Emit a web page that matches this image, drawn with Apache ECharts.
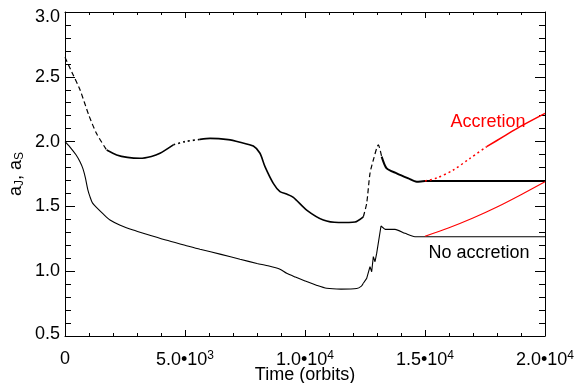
<!DOCTYPE html>
<html>
<head>
<meta charset="utf-8">
<script src="https://cdn.jsdelivr.net/npm/echarts@6/dist/echarts.min.js"></script>
<style>
html,body{margin:0;padding:0;background:#fff;}
#chart{width:578px;height:383px;}
</style>
</head>
<body>
<div id="chart"></div>
<script>
// Jupiter semi-major axis (no accretion)
const timeJ = [0,200,450,625,750,850,950,1040,1150,1320,1600,1875,2300,2840,3500,4200,5000,5625,6500,7292,8000,8500,8958,9236,9600,10000,10500,10903,11500,12153,12350,12430,12570,12708,12778,12847,12917,12986,13167,13333,13750,14167,14583,20000];
const aJ    = [2.0,1.96,1.9,1.845,1.79,1.72,1.63,1.575,1.525,1.49,1.44,1.395,1.355,1.318,1.28,1.24,1.2,1.169,1.13,1.092,1.06,1.04,1.015,0.984,0.955,0.925,0.89,0.868,0.862,0.866,0.885,0.907,0.945,1.035,0.996,1.112,1.073,1.137,1.349,1.323,1.323,1.292,1.266,1.266];
// Saturn semi-major axis (no accretion)
const timeS = [0,300,625,1000,1320,1736,2153,2600,3125,3600,3958,4514,5000,5625,6042,6800,7292,7847,8125,8333,8680,8958,9236,9514,10069,10764,11400,12083,12431,12570,12708,12847,13056,13194,13403,13819,14306,14653,15000,20000];
const aS    = [2.65,2.53,2.40,2.20,2.06,1.935,1.897,1.878,1.871,1.885,1.91,1.975,2.0,2.017,2.025,2.015,1.995,1.966,1.91,1.807,1.678,1.614,1.595,1.57,1.472,1.395,1.376,1.38,1.42,1.524,1.755,1.858,1.974,1.884,1.793,1.755,1.716,1.69,1.696,1.696];
// With accretion
const timeJacc = [15000,16000,17000,18000,19000,20000];
const aJacc    = [1.27,1.335,1.41,1.495,1.59,1.69];
const timeSacc = [15000,15500,16181,16875,17569,18264,18958,20000];
const aSacc    = [1.696,1.72,1.781,1.871,1.961,2.038,2.115,2.218];
// Tick values
const xTicks = [0,5000,10000,15000,20000];
const yTicks = [0.5,1.0,1.5,2.0,2.5,3.0];
const labelAcc = 'Accretion';
const labelNoAcc = 'No accretion';
const xTitle = 'Time (orbits)';

function pairs(t, v, t0, t1) {
  const out = [];
  for (let i = 0; i < t.length; i++) if (t[i] >= t0 && t[i] <= t1) out.push([t[i], v[i]]);
  return out;
}
function xfmt(v) {
  if (v === 0) return '0';
  const e = Math.floor(Math.log10(v) + 1e-9);
  const m = v / Math.pow(10, e);
  return m.toFixed(1) + '•10{sup|' + e + '}';
}
function yfmt(v) {
  const s = v.toFixed(1);
  if (v === yTicks[0]) return '{lo|' + s + '}';
  if (v === yTicks[yTicks.length - 1]) return '{hi|' + s + '}';
  return s;
}
const FONT = 'Liberation Sans, Arial, sans-serif';
const chart = echarts.init(document.getElementById('chart'), null, {renderer: 'canvas'});

const sSegs = [
  {t0: 0, t1: 1736, type: [5, 3], w: 1.2},
  {t0: 1736, t1: 4514, type: 'solid', w: 1.6},
  {t0: 4514, t1: 5625, type: [2, 3], w: 1.6},
  {t0: 5625, t1: 12431, type: 'solid', w: 1.6},
  {t0: 12431, t1: 13194, type: [5, 3], w: 1.2},
  {t0: 13194, t1: 20000, type: 'solid', w: 2}
];
const jSegs = [
  {t0: 0, t1: 12430, sm: 0.25},
  {t0: 12430, t1: 13333, sm: 0},
  {t0: 13333, t1: 20000, sm: 0.25}
];
const series = [];
jSegs.forEach(s => series.push({type: 'line', data: pairs(timeJ, aJ, s.t0, s.t1), showSymbol: false,
  smooth: s.sm, lineStyle: {color: '#000', width: 1.1}, z: 3}));
sSegs.forEach(s => series.push({type: 'line', data: pairs(timeS, aS, s.t0, s.t1), showSymbol: false,
  smooth: 0.25, lineStyle: {color: '#000', width: s.w, type: s.type}, z: 3}));
series.push({type: 'line', data: pairs(timeJacc, aJacc, 0, 20000), showSymbol: false, smooth: 0.3,
  lineStyle: {color: '#ff0000', width: 1.1}, z: 4});
series.push({type: 'line', data: pairs(timeSacc, aSacc, 0, 17569), showSymbol: false, smooth: 0.3,
  lineStyle: {color: '#ff0000', width: 1.5, type: [2, 3]}, z: 4});
series.push({type: 'line', data: pairs(timeSacc, aSacc, 17569, 20000), showSymbol: false, smooth: 0.3,
  lineStyle: {color: '#ff0000', width: 1.5}, z: 4});

const axisCommon = {
  axisLine: {show: true, onZero: false, lineStyle: {color: '#000', width: 1}},
  splitLine: {show: false}
};
chart.setOption({
  animation: false,
  backgroundColor: '#fff',
  grid: {left: 65, right: 33, top: 12, bottom: 47, containLabel: false},
  xAxis: [
    Object.assign({}, axisCommon, {
      type: 'value', position: 'bottom', min: xTicks[0], max: xTicks[xTicks.length-1], interval: 5000,
      axisTick: {show: true, inside: true, length: 6, lineStyle: {color: '#000'}},
      minorTick: {show: true, splitNumber: 5, length: 3, lineStyle: {color: '#000'}},
      axisLabel: {show: true, margin: 14, color: '#000', fontSize: 18, fontFamily: FONT,
        formatter: xfmt, showMinLabel: true, showMaxLabel: true,
        rich: {sup: {fontSize: 12, fontFamily: FONT, color: '#000', padding: [0, 0, 9, 0]}}}
    }),
    Object.assign({}, axisCommon, {
      type: 'value', position: 'top', min: xTicks[0], max: xTicks[xTicks.length-1], interval: 5000,
      axisTick: {show: true, inside: true, length: 6, lineStyle: {color: '#000'}},
      minorTick: {show: true, splitNumber: 5, length: 3, lineStyle: {color: '#000'}},
      axisLabel: {show: false}
    })
  ],
  yAxis: [
    Object.assign({}, axisCommon, {
      type: 'value', position: 'left', min: yTicks[0], max: yTicks[yTicks.length-1], interval: 0.5,
      axisTick: {show: true, inside: true, length: 10, lineStyle: {color: '#000'}},
      minorTick: {show: true, splitNumber: 5, length: 6, lineStyle: {color: '#000'}},
      axisLabel: {show: true, margin: 5, color: '#000', fontSize: 18, fontFamily: FONT,
        formatter: yfmt, showMinLabel: true, showMaxLabel: true,
        rich: {
          lo: {fontSize: 18, fontFamily: FONT, color: '#000', padding: [0, 0, 4, 0]},
          hi: {fontSize: 18, fontFamily: FONT, color: '#000', padding: [10, 0, 0, 0]}
        }}
    }),
    Object.assign({}, axisCommon, {
      type: 'value', position: 'right', min: yTicks[0], max: yTicks[yTicks.length-1], interval: 0.5,
      axisTick: {show: true, inside: true, length: 10, lineStyle: {color: '#000'}},
      minorTick: {show: true, splitNumber: 5, length: 6, lineStyle: {color: '#000'}},
      axisLabel: {show: false}
    })
  ],
  graphic: [
    {type: 'text', x: 16, y: 174, rotation: Math.PI / 2,
      style: {text: 'a{sub|J}, a{sub|S}', font: '18px ' + FONT, fill: '#000', align: 'center', verticalAlign: 'middle',
        rich: {sub: {fontSize: 12, fontFamily: FONT, fill: '#000', padding: [8, 0, 0, 0]}}}},
    {type: 'text', x: 305, y: 375,
      style: {text: xTitle, font: '18px ' + FONT, fill: '#000', align: 'center', verticalAlign: 'middle'}},
    {type: 'text', x: 488, y: 122,
      style: {text: labelAcc, font: '18px ' + FONT, fill: '#ff0000', align: 'center', verticalAlign: 'middle'}},
    {type: 'text', x: 479, y: 253,
      style: {text: labelNoAcc, font: '18px ' + FONT, fill: '#000', align: 'center', verticalAlign: 'middle'}}
  ],
  series: series
});
</script>
</body>
</html>
